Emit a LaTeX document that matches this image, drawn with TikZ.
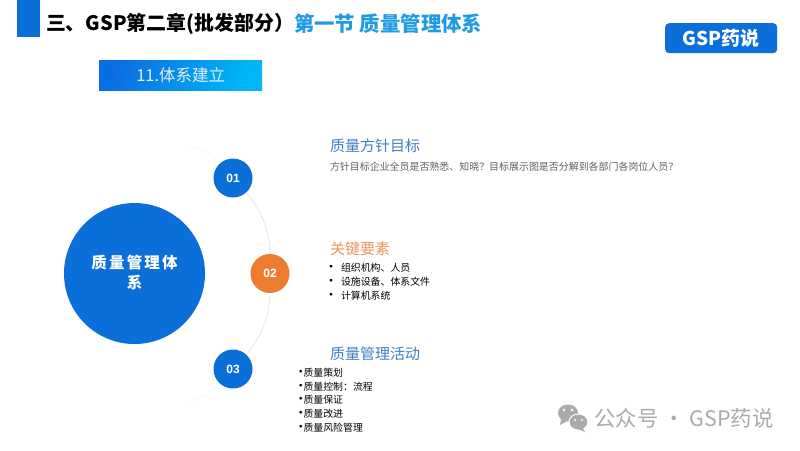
\documentclass[tikz,border=0pt]{standalone}
\usepackage{fontspec}
\setmainfont{Noto Sans CJK SC}
\newfontfamily\spaced[LetterSpace=14]{Noto Sans CJK SC}
\newfontfamily\arialb{Liberation Sans}
\definecolor{mainblue}{HTML}{0B6FD9}
\definecolor{skyblue}{HTML}{1E9BE3}
\definecolor{headblue}{HTML}{3F80C4}
\definecolor{headorange}{HTML}{E8965F}
\definecolor{accentorange}{HTML}{EC7C30}
\definecolor{arcgray}{HTML}{E8E8E8}
\definecolor{arcfaint}{HTML}{F6F6F6}
\definecolor{markgray}{HTML}{ABABAB}
\definecolor{gradstart}{HTML}{0A6EE2}
\definecolor{gradend}{HTML}{00B6F6}
\tikzset{
  lefttext/.style={anchor=west,inner sep=0pt,outer sep=0pt},
  numdot/.style={circle,fill=mainblue,minimum size=39pt,inner sep=0pt,text=white,font=\arialb\fontsize{12}{12}\selectfont\bfseries},
  headtext/.style={lefttext,font=\fontsize{15}{15}\selectfont},
  itemtext/.style={lefttext,text=black,font=\fontsize{9.9}{10}\selectfont},
  bullettext/.style={anchor=center,inner sep=0pt,text=black,font=\fontsize{10}{10}\selectfont\bfseries},
  ringarc/.style={draw=arcgray,line width=0.8pt},
  ringfade/.style={draw=arcfaint,line width=0.7pt}
}
\begin{document}
\begin{tikzpicture}[x=1pt,y=-1pt]
\useasboundingbox (0,0) rectangle (800,450);
\fill[white] (0,0) rectangle (800,450);
% header
\fill[mainblue] (17,0) rectangle (40,37);
\node[lefttext,text=black,font=\fontsize{19.9}{20}\selectfont\bfseries] (title) at (46,24) {三、GSP第二章(批发部分）};
\node[lefttext,text=skyblue,font=\fontsize{20.4}{20}\selectfont\bfseries] (section) at (294,24) {第一节 质量管理体系};
\node[anchor=north west,minimum width=163pt,minimum height=30pt,inner sep=0pt,left color=gradstart,right color=gradend,shading angle=65,text=white!92!blue,font=\fontsize{16.5}{16.5}\selectfont] (sub) at (99,60) {11.体系建立};
\node[anchor=north west,minimum width=112pt,minimum height=30pt,inner sep=0pt,fill=mainblue,rounded corners=4pt,text=white,font=\fontsize{19}{19}\selectfont\bfseries] (badge) at (665,23) {GSP药说};
% ring
\coordinate (tailA) at (190,145);
\coordinate (tailB) at (190,402);
\node[numdot] (c01) at (233,178) {01};
\node[numdot,fill=accentorange] (c02) at (270,273.5) {02};
\node[numdot] (c03) at (233,369) {03};
\draw[ringarc] (c01) to[bend left=21,looseness=.87] (c02);
\draw[ringarc] (c02) to[bend left=21,looseness=.87] (c03);
\draw[ringfade] (tailA) to[bend left=11] (c01);
\draw[ringfade] (c03) to[bend left=11] (tailB);
% centre
\node[circle,fill=mainblue,minimum size=141pt,inner sep=0pt] (hub) at (134.5,273.5) {};
\node[anchor=center,inner sep=0pt,text=white,font=\spaced\fontsize{15.5}{15.5}\selectfont\bfseries] (hubA) at (134.5,263) {质量管理体};
\node[anchor=center,inner sep=0pt,text=white,font=\spaced\fontsize{15.5}{15.5}\selectfont\bfseries] (hubB) at (134.5,283) {系};
% block 1
\node[headtext,text=headblue] (h1) at (330,145.5) {质量方针目标};
\node[lefttext,text=black!62,font=\fontsize{9.95}{10}\selectfont] (b1) at (330,167) {方针目标企业全员是否熟悉、知晓？目标展示图是否分解到各部门各岗位人员？};
% block 2
\node[headtext,text=headorange] (h2) at (330,249) {关键要素};
\node[bullettext] (d1) at (331,268) {•};
\node[itemtext] (i1) at (341,268) {组织机构、人员};
\node[bullettext] (d2) at (331,282) {•};
\node[itemtext] (i2) at (341,282) {设施设备、体系文件};
\node[bullettext] (d3) at (331,296) {•};
\node[itemtext] (i3) at (341,296) {计算机系统};
% block 3
\node[headtext,text=headblue] (h3) at (330,353.5) {质量管理活动};
\node[bullettext] (e1) at (300.8,372.5) {•};
\node[itemtext] (j1) at (303.5,372.5) {质量策划};
\node[bullettext] (e2) at (300.8,386.5) {•};
\node[itemtext] (j2) at (303.5,386.5) {质量控制：流程};
\node[bullettext] (e3) at (300.8,400) {•};
\node[itemtext] (j3) at (303.5,400) {质量保证};
\node[bullettext] (e4) at (300.8,414) {•};
\node[itemtext] (j4) at (303.5,414) {质量改进};
\node[bullettext] (e5) at (300.8,427.5) {•};
\node[itemtext] (j5) at (303.5,427.5) {质量风险管理};
% watermark
\fill[markgray] (568,413) ellipse[x radius=10,y radius=8.5];
\fill[markgray] (561,419) -- (560,425) -- (567,421) -- cycle;
\fill[white] (564,410) circle[radius=1.3] (572,410) circle[radius=1.3];
\fill[white] (578.5,422) ellipse[x radius=10,y radius=8.5];
\fill[markgray] (578.5,422) ellipse[x radius=8.8,y radius=7.5];
\fill[markgray] (582,427) -- (585,432) -- (578,429) -- cycle;
\fill[white] (575,420) circle[radius=1.1] (582,420) circle[radius=1.1];
\node[lefttext,text=markgray,font=\fontsize{21.4}{22}\selectfont] (wm) at (594.5,418) {公众号 · GSP药说};
\end{tikzpicture}
\end{document}
